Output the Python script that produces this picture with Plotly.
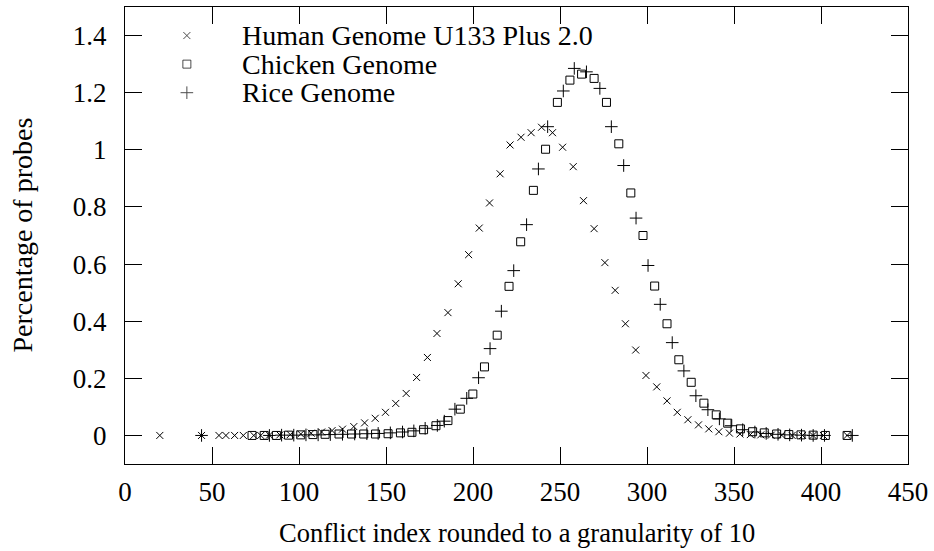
import plotly.graph_objects as go

# ---- data ----
human_x = [20, 44, 54, 58, 63, 68, 74, 78, 83, 89, 95, 101, 107, 113, 119, 125, 131.5, 137.7,
           143.8, 149.7, 155.6, 161.6, 167.6, 173.8, 179.3, 185.6, 191.5, 197.5, 203.6, 209.5,
           215.6, 221.3, 227.6, 233.4, 239.4, 245.7, 251.5, 257.6, 263.5, 269.6, 275.8, 281.7,
           287.6, 293.5, 299.4, 305.6, 311.5, 317.4, 323.5, 329.6, 335.5, 341.3, 347.4, 353.4,
           359.4, 365.4, 371.4, 377.4, 383.4, 389.4, 395.4, 401.4, 415]
human_y = [0, 0, 0, 0, 0, 0, 0, 0, 0.001, 0.002, 0.003, 0.005, 0.008, 0.012, 0.017, 0.022, 0.031,
           0.044, 0.06, 0.081, 0.112, 0.147, 0.203, 0.273, 0.357, 0.43, 0.531, 0.633, 0.726, 0.814,
           0.916, 1.017, 1.044, 1.06, 1.079, 1.06, 1.009, 0.941, 0.822, 0.724, 0.605, 0.508,
           0.391, 0.299, 0.21, 0.17, 0.121, 0.081, 0.055, 0.037, 0.023, 0.013, 0.008, 0.005,
           0.003, 0.002, 0.001, 0.001, 0, 0, 0, 0, 0]

chicken_x = [73, 80, 87, 94, 101, 108, 115, 123, 130.2, 137.2, 144, 151.2, 158.3, 164.9, 171.6,
             178.7, 185.6, 192.7, 199.9, 206.6, 213.9, 220.7, 227.4, 234.7, 241.7, 248.5, 255.7,
             262.4, 269.6, 276.7, 283.8, 290.7, 297.7, 304.4, 311.5, 318.3, 325.4, 332.7, 339.8,
             346.4, 353.7, 360.7, 367.4, 374.5, 381.5, 388.5, 395.5, 402.5, 415]
chicken_y = [0, 0, 0, 0.001, 0.002, 0.003, 0.004, 0.005, 0.005, 0.005, 0.005, 0.006, 0.009, 0.011,
             0.02, 0.034, 0.052, 0.092, 0.145, 0.24, 0.351, 0.522, 0.678, 0.858, 1.002, 1.166,
             1.244, 1.265, 1.25, 1.166, 1.021, 0.849, 0.7, 0.523, 0.391, 0.265, 0.186, 0.113,
             0.072, 0.043, 0.023, 0.013, 0.009, 0.005, 0.003, 0.002, 0.001, 0, 0]

rice_x = [44, 83, 90, 97, 104, 111, 118, 125, 132, 139, 145.5, 152.5, 159.5, 166, 172.5, 179.5,
          183.5, 189.6, 196.4, 203.2, 209.8, 216.3, 223.4, 230.8, 237.6, 242.9, 251.9, 258.2,
          265.2, 272.9, 279.5, 286.6, 293.7, 300.6, 307.6, 314.5, 321.2, 328.1, 335, 341.6,
          348.3, 355, 362, 368.5, 375.3, 382, 388.8, 395.5, 402, 418]
rice_y = [0, 0, 0.001, 0.001, 0.002, 0.002, 0.003, 0.004, 0.005, 0.006, 0.007, 0.009, 0.012, 0.016,
          0.025, 0.035, 0.05, 0.092, 0.13, 0.202, 0.304, 0.435, 0.577, 0.738, 0.933, 1.081,
          1.206, 1.285, 1.273, 1.215, 1.081, 0.945, 0.761, 0.595, 0.459, 0.325, 0.226, 0.139,
          0.09, 0.058, 0.034, 0.02, 0.012, 0.007, 0.004, 0.002, 0.001, 0, 0, 0]

series_names = ["Human Genome U133 Plus 2.0", "Chicken Genome", "Rice Genome"]
x_ticks = [0, 50, 100, 150, 200, 250, 300, 350, 400, 450]
y_ticks = [0, 0.2, 0.4, 0.6, 0.8, 1, 1.2, 1.4]
y_ticklabels = ["0", "0.2", "0.4", "0.6", "0.8", "1", "1.2", "1.4"]

FONT = "Liberation Serif"
FS_TICK = 27
FS_LEGEND = 28
FS_XTITLE = 26.5
FS_YTITLE = 28
symbols = ["x-thin", "square-open", "cross-thin"]
sizes = [7, 8, 9]

# legend key layout (fractions of the plot area)
KEY_X = 0.079
TEXT_X = 0.148
KEY_Y = [0.9375, 0.875, 0.8125]

fig = go.Figure()
for xs, ys, name, sym, sz in zip([human_x, chicken_x, rice_x], [human_y, chicken_y, rice_y],
                                 series_names, symbols, sizes):
    fig.add_trace(go.Scatter(
        x=xs, y=ys, mode="markers", name=name, showlegend=False,
        marker=dict(symbol=sym, size=sz, color="black", line=dict(color="black", width=1)),
    ))

# legend keys on an overlay axis spanning the plot area
fig.add_trace(go.Scatter(
    x=[KEY_X] * 3, y=KEY_Y, mode="markers", xaxis="x2", yaxis="y2", showlegend=False,
    hoverinfo="skip",
    marker=dict(symbol=symbols, size=sizes, color="black", line=dict(color="black", width=1)),
))

axis_common = dict(showline=True, linecolor="black", linewidth=1, mirror="ticks",
                   ticks="inside", ticklen=17, tickcolor="black", tickwidth=1,
                   showgrid=False, zeroline=False,
                   tickfont=dict(family=FONT, size=FS_TICK, color="black"))

annotations = [
    dict(text="Conflict index rounded to a granularity of 10", xref="paper", yref="paper",
         x=0.5, y=0, yshift=-69, showarrow=False, xanchor="center", yanchor="middle",
         font=dict(family=FONT, size=FS_XTITLE, color="black")),
    dict(text="Percentage of probes", xref="paper", yref="paper", x=0, xshift=-103,
         y=0.5, showarrow=False, textangle=-90, xanchor="center", yanchor="middle",
         font=dict(family=FONT, size=FS_YTITLE, color="black")),
]
for name, ky in zip(series_names, KEY_Y):
    annotations.append(dict(text=name, xref="paper", yref="paper", x=TEXT_X, y=ky,
                            showarrow=False, xanchor="left", yanchor="middle", borderpad=0,
                            font=dict(family=FONT, size=FS_LEGEND, color="black")))

fig.update_layout(
    width=934, height=551,
    margin=dict(l=125, r=24, t=6, b=87),
    paper_bgcolor="white", plot_bgcolor="white",
    xaxis=dict(range=[0, 450], tickvals=x_ticks, ticklabelstandoff=4, **axis_common),
    yaxis=dict(range=[-0.1, 1.5], tickvals=y_ticks, ticktext=y_ticklabels,
               ticklabelstandoff=12, **axis_common),
    xaxis2=dict(overlaying="x", range=[0, 1], visible=False),
    yaxis2=dict(overlaying="y", range=[0, 1], visible=False),
    showlegend=False,
    hovermode=False,
    annotations=annotations,
)

fig.write_html("out.html", config={"displayModeBar": False, "staticPlot": True},
               post_script="document.body.style.margin='0';")
